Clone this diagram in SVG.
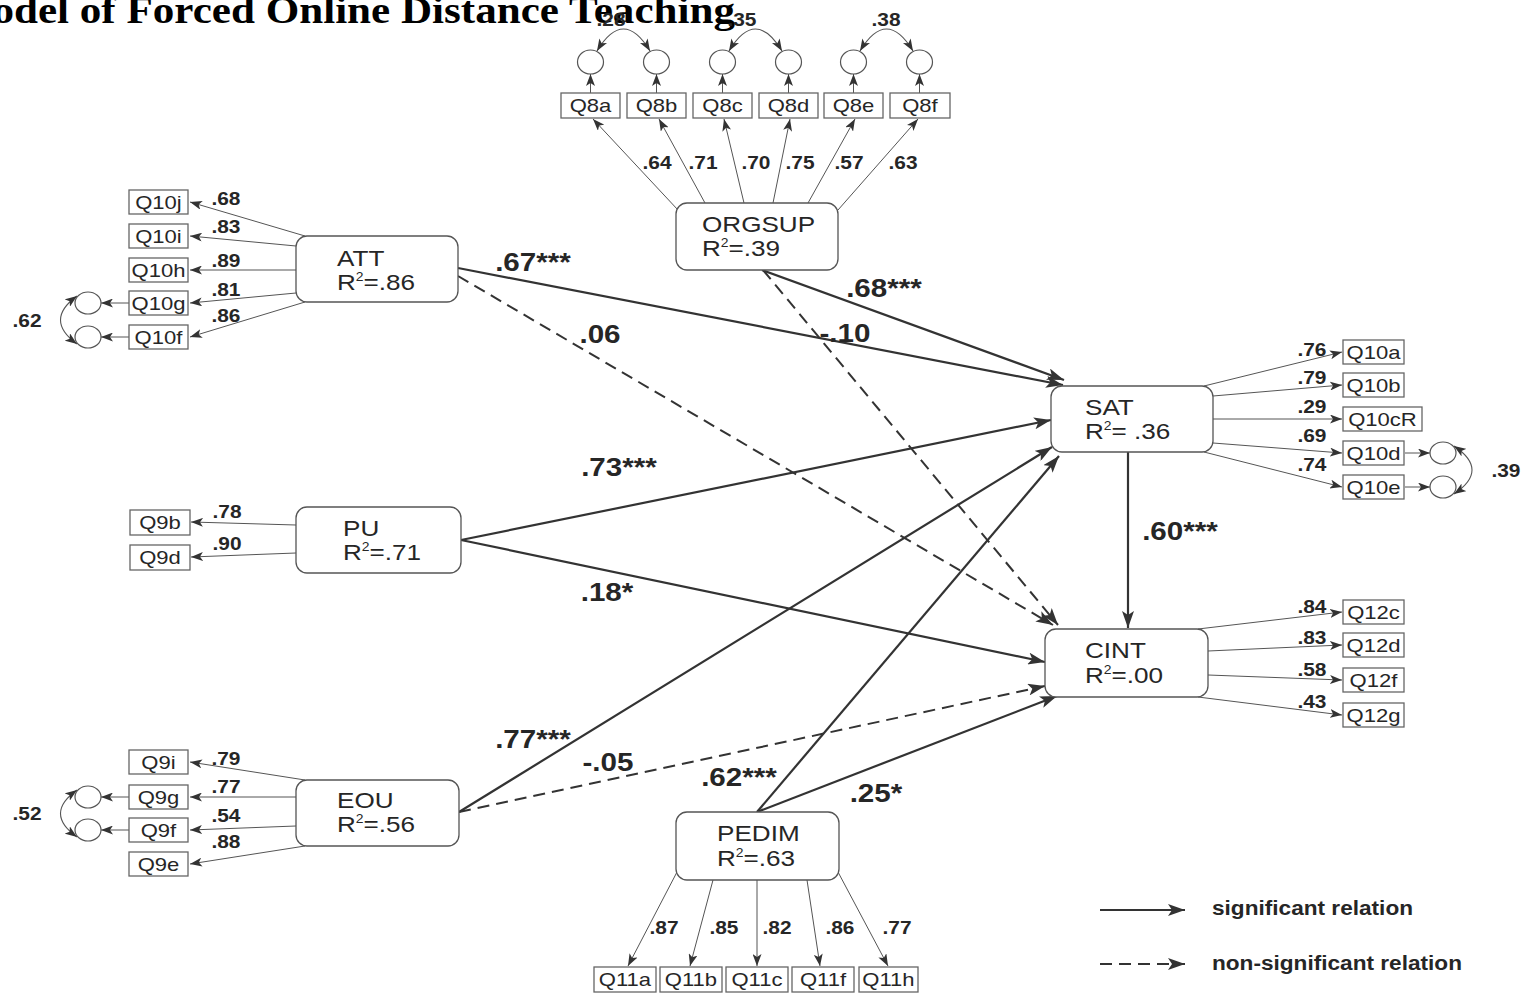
<svg xmlns="http://www.w3.org/2000/svg" width="1521" height="994" viewBox="0 0 1521 994">
<style>
text{font-family:"Liberation Sans",Arial,sans-serif;fill:#262626}
.tc{text-anchor:middle;transform-box:fill-box;transform-origin:center;transform:scaleX(1.16)}
.tl{text-anchor:start;transform-box:fill-box;transform-origin:left center;transform:scaleX(1.16)}
.title{font-family:"Liberation Serif","Times New Roman",serif;font-weight:bold;font-size:37px;fill:#000;text-anchor:end;transform-box:fill-box;transform-origin:right center;transform:scaleX(1.165)}
.nt{font-size:22.5px}
.sup{font-size:12px}
.it{font-size:19px}
.ld{font-size:18px;font-weight:bold}
.pl{font-size:25.5px;font-weight:bold}
.lg{font-size:19.5px;font-weight:bold}
.lat{fill:#fff;stroke:#555;stroke-width:1.3}
.ind{fill:#fff;stroke:#666;stroke-width:1.3}
.err{fill:#fff;stroke:#555;stroke-width:1.2}
.ln{stroke:#555;stroke-width:1;fill:none;marker-end:url(#sa)}
.cv{stroke:#555;stroke-width:1.1;fill:none;marker-start:url(#sa);marker-end:url(#sa)}
.sp{stroke:#333;stroke-width:2.2;fill:none;marker-end:url(#ba)}
.ns{stroke:#333;stroke-width:2;fill:none;stroke-dasharray:12 7;marker-end:url(#ba)}
</style>
<defs>
<marker id="sa" viewBox="0 0 12 9" refX="12" refY="4.5" markerWidth="12" markerHeight="9" markerUnits="userSpaceOnUse" orient="auto-start-reverse"><path d="M0,0 L12,4.5 L0,9 L3,4.5 z" fill="#333"/></marker>
<marker id="ba" viewBox="0 0 17 12" refX="17" refY="6" markerWidth="17" markerHeight="12" markerUnits="userSpaceOnUse" orient="auto"><path d="M0,0 L17,6 L0,12 L4,6 z" fill="#333"/></marker>
</defs>
<rect width="1521" height="994" fill="#fff"/>
<text id="title" class="title" x="735" y="23">Model of Forced Online Distance Teaching</text>

<g id="connectors">
<line class="ln" x1="678" y1="210" x2="593" y2="119"/>
<line class="ln" x1="705" y1="203" x2="659" y2="119"/>
<line class="ln" x1="744" y1="203" x2="724" y2="119"/>
<line class="ln" x1="773" y1="203" x2="790" y2="119"/>
<line class="ln" x1="808" y1="203" x2="855" y2="119"/>
<line class="ln" x1="838" y1="210" x2="918" y2="119"/>
<line class="ln" x1="590.5" y1="93" x2="590.5" y2="74"/>
<line class="ln" x1="656.5" y1="93" x2="656.5" y2="74"/>
<line class="ln" x1="722.5" y1="93" x2="722.5" y2="74"/>
<line class="ln" x1="788.5" y1="93" x2="788.5" y2="74"/>
<line class="ln" x1="853.5" y1="93" x2="853.5" y2="74"/>
<line class="ln" x1="919.5" y1="93" x2="919.5" y2="74"/>
<path class="cv" d="M597,51 Q623.5,7 650,51"/>
<path class="cv" d="M729,51 Q755.5,7 782,51"/>
<path class="cv" d="M860,51 Q886.5,7 913,51"/>
<line class="ln" x1="305" y1="236" x2="190" y2="202"/>
<line class="ln" x1="296" y1="246" x2="190" y2="236"/>
<line class="ln" x1="296" y1="270" x2="190" y2="270"/>
<line class="ln" x1="296" y1="293" x2="190" y2="303"/>
<line class="ln" x1="305" y1="302" x2="190" y2="337"/>
<line class="ln" x1="129" y1="303" x2="101" y2="303"/>
<line class="ln" x1="129" y1="337" x2="101" y2="337"/>
<path class="cv" d="M77,296 Q44,320 77,344"/>
<line class="ln" x1="296" y1="525" x2="191" y2="522"/>
<line class="ln" x1="296" y1="553" x2="191" y2="557"/>
<line class="ln" x1="305" y1="780" x2="190" y2="762"/>
<line class="ln" x1="296" y1="797" x2="190" y2="797"/>
<line class="ln" x1="296" y1="826" x2="190" y2="830"/>
<line class="ln" x1="305" y1="846" x2="190" y2="864"/>
<line class="ln" x1="129" y1="797" x2="101" y2="797"/>
<line class="ln" x1="129" y1="830" x2="101" y2="830"/>
<path class="cv" d="M77,790 Q44,813.5 77,837"/>
<line class="ln" x1="1204" y1="386" x2="1342" y2="352"/>
<line class="ln" x1="1213" y1="396" x2="1342" y2="385"/>
<line class="ln" x1="1213" y1="419" x2="1342" y2="419"/>
<line class="ln" x1="1213" y1="443" x2="1342" y2="453"/>
<line class="ln" x1="1204" y1="452" x2="1342" y2="487"/>
<line class="ln" x1="1405" y1="453" x2="1430" y2="453"/>
<line class="ln" x1="1405" y1="487" x2="1430" y2="487"/>
<path class="cv" d="M1454,446 Q1490,470 1454,494"/>
<line class="ln" x1="1198" y1="629" x2="1342" y2="612"/>
<line class="ln" x1="1208" y1="651" x2="1342" y2="645"/>
<line class="ln" x1="1208" y1="675" x2="1342" y2="680"/>
<line class="ln" x1="1198" y1="697" x2="1342" y2="715"/>
<line class="ln" x1="677" y1="872" x2="628" y2="966"/>
<line class="ln" x1="713" y1="880" x2="690" y2="966"/>
<line class="ln" x1="757" y1="880" x2="757" y2="966"/>
<line class="ln" x1="807" y1="880" x2="820" y2="966"/>
<line class="ln" x1="838" y1="872" x2="888" y2="966"/>
<line class="sp" x1="458" y1="268" x2="1063" y2="385"/>
<line class="ns" x1="458" y1="276" x2="1053" y2="625"/>
<line class="sp" x1="762" y1="270" x2="1064" y2="380"/>
<line class="ns" x1="763" y1="270" x2="1058" y2="625"/>
<line class="sp" x1="461" y1="540" x2="1051" y2="420"/>
<line class="sp" x1="461" y1="540" x2="1045" y2="662"/>
<line class="sp" x1="459" y1="812" x2="1052" y2="447"/>
<line class="ns" x1="459" y1="812" x2="1045" y2="686"/>
<line class="sp" x1="757" y1="812" x2="1059" y2="456"/>
<line class="sp" x1="757" y1="812" x2="1057" y2="696"/>
<line class="sp" x1="1128" y1="452" x2="1128" y2="628"/>
<line class="sp" x1="1100" y1="910" x2="1185" y2="910"/>
<line class="ns" x1="1100" y1="964" x2="1185" y2="964"/>
</g>

<g id="labels">
<text class="ld tc" x="611" y="26">.28</text>
<text class="ld tc" x="742" y="26">.35</text>
<text class="ld tc" x="886" y="26">.38</text>
<text class="ld tc" x="657" y="169">.64</text>
<text class="ld tc" x="703" y="169">.71</text>
<text class="ld tc" x="756" y="169">.70</text>
<text class="ld tc" x="800" y="169">.75</text>
<text class="ld tc" x="849" y="169">.57</text>
<text class="ld tc" x="903" y="169">.63</text>
<text class="ld tc" x="226" y="205">.68</text>
<text class="ld tc" x="226" y="233">.83</text>
<text class="ld tc" x="226" y="267">.89</text>
<text class="ld tc" x="226" y="296">.81</text>
<text class="ld tc" x="226" y="322">.86</text>
<text class="ld tc" x="27" y="327">.62</text>
<text class="ld tc" x="227" y="518">.78</text>
<text class="ld tc" x="227" y="550">.90</text>
<text class="ld tc" x="226" y="765">.79</text>
<text class="ld tc" x="226" y="793">.77</text>
<text class="ld tc" x="226" y="822">.54</text>
<text class="ld tc" x="226" y="848">.88</text>
<text class="ld tc" x="27" y="820">.52</text>
<text class="ld tc" x="1312" y="356">.76</text>
<text class="ld tc" x="1312" y="384">.79</text>
<text class="ld tc" x="1312" y="413">.29</text>
<text class="ld tc" x="1312" y="442">.69</text>
<text class="ld tc" x="1312" y="471">.74</text>
<text class="ld tc" x="1506" y="477">.39</text>
<text class="ld tc" x="1312" y="613">.84</text>
<text class="ld tc" x="1312" y="644">.83</text>
<text class="ld tc" x="1312" y="676">.58</text>
<text class="ld tc" x="1312" y="708">.43</text>
<text class="ld tc" x="664" y="934">.87</text>
<text class="ld tc" x="724" y="934">.85</text>
<text class="ld tc" x="777" y="934">.82</text>
<text class="ld tc" x="840" y="934">.86</text>
<text class="ld tc" x="897" y="934">.77</text>
<text class="pl tc" x="533" y="271">.67***</text>
<text class="pl tc" x="600" y="343">.06</text>
<text class="pl tc" x="884" y="297">.68***</text>
<text class="pl tc" x="845" y="342">-.10</text>
<text class="pl tc" x="619" y="476">.73***</text>
<text class="pl tc" x="607" y="601">.18*</text>
<text class="pl tc" x="533" y="748">.77***</text>
<text class="pl tc" x="608" y="771">-.05</text>
<text class="pl tc" x="739" y="786">.62***</text>
<text class="pl tc" x="876" y="802">.25*</text>
<text class="pl tc" x="1180" y="540">.60***</text>
<text class="lg tl" x="1212" y="915">significant relation</text>
<text class="lg tl" x="1212" y="970">non-significant relation</text>
</g>

<g id="ORGSUP"><rect class="lat" x="676" y="203" width="162" height="67" rx="11"/><text class="nt tl" x="702" y="232">ORGSUP</text><text class="nt tl" x="702" y="256">R<tspan class="sup" dy="-9">2</tspan><tspan dy="9">=.39</tspan></text></g>
<g id="ATT"><rect class="lat" x="296" y="236" width="162" height="66" rx="11"/><text class="nt tl" x="337" y="266">ATT</text><text class="nt tl" x="337" y="290">R<tspan class="sup" dy="-9">2</tspan><tspan dy="9">=.86</tspan></text></g>
<g id="PU"><rect class="lat" x="296" y="507" width="165" height="66" rx="11"/><text class="nt tl" x="343" y="536">PU</text><text class="nt tl" x="343" y="560">R<tspan class="sup" dy="-9">2</tspan><tspan dy="9">=.71</tspan></text></g>
<g id="EOU"><rect class="lat" x="296" y="780" width="163" height="66" rx="11"/><text class="nt tl" x="337" y="808">EOU</text><text class="nt tl" x="337" y="832">R<tspan class="sup" dy="-9">2</tspan><tspan dy="9">=.56</tspan></text></g>
<g id="SAT"><rect class="lat" x="1051" y="386" width="162" height="66" rx="11"/><text class="nt tl" x="1085" y="415">SAT</text><text class="nt tl" x="1085" y="439">R<tspan class="sup" dy="-9">2</tspan><tspan dy="9">= .36</tspan></text></g>
<g id="CINT"><rect class="lat" x="1045" y="629" width="163" height="68" rx="11"/><text class="nt tl" x="1085" y="658">CINT</text><text class="nt tl" x="1085" y="683">R<tspan class="sup" dy="-9">2</tspan><tspan dy="9">=.00</tspan></text></g>
<g id="PEDIM"><rect class="lat" x="676" y="812" width="163" height="68" rx="11"/><text class="nt tl" x="717" y="841">PEDIM</text><text class="nt tl" x="717" y="866">R<tspan class="sup" dy="-9">2</tspan><tspan dy="9">=.63</tspan></text></g>

<g id="Q8a"><rect class="ind" x="561" y="93" width="59" height="25"/><text class="it tc" x="590.5" y="112">Q8a</text></g>
<g id="Q8b"><rect class="ind" x="627" y="93" width="59" height="25"/><text class="it tc" x="656.5" y="112">Q8b</text></g>
<g id="Q8c"><rect class="ind" x="693" y="93" width="59" height="25"/><text class="it tc" x="722.5" y="112">Q8c</text></g>
<g id="Q8d"><rect class="ind" x="759" y="93" width="59" height="25"/><text class="it tc" x="788.5" y="112">Q8d</text></g>
<g id="Q8e"><rect class="ind" x="824" y="93" width="59" height="25"/><text class="it tc" x="853.5" y="112">Q8e</text></g>
<g id="Q8f"><rect class="ind" x="890" y="93" width="60" height="25"/><text class="it tc" x="920" y="112">Q8f</text></g>
<g id="e8a"><ellipse class="err" cx="590.5" cy="62" rx="13" ry="12"/></g>
<g id="e8b"><ellipse class="err" cx="656.5" cy="62" rx="13" ry="12"/></g>
<g id="e8c"><ellipse class="err" cx="722.5" cy="62" rx="13" ry="12"/></g>
<g id="e8d"><ellipse class="err" cx="788.5" cy="62" rx="13" ry="12"/></g>
<g id="e8e"><ellipse class="err" cx="853.5" cy="62" rx="13" ry="12"/></g>
<g id="e8f"><ellipse class="err" cx="919.5" cy="62" rx="13" ry="12"/></g>

<g id="Q10j"><rect class="ind" x="129" y="190" width="59" height="24"/><text class="it tc" x="158.5" y="209">Q10j</text></g>
<g id="Q10i"><rect class="ind" x="129" y="224" width="59" height="24"/><text class="it tc" x="158.5" y="243">Q10i</text></g>
<g id="Q10h"><rect class="ind" x="129" y="258" width="59" height="24"/><text class="it tc" x="158.5" y="277">Q10h</text></g>
<g id="Q10g"><rect class="ind" x="129" y="291" width="59" height="24"/><text class="it tc" x="158.5" y="310">Q10g</text></g>
<g id="Q10f"><rect class="ind" x="129" y="325" width="59" height="24"/><text class="it tc" x="158.5" y="344">Q10f</text></g>
<g id="e10g"><ellipse class="err" cx="88" cy="303" rx="13" ry="11"/></g>
<g id="e10f"><ellipse class="err" cx="88" cy="337" rx="13" ry="11"/></g>

<g id="Q9b"><rect class="ind" x="130" y="510" width="60" height="25"/><text class="it tc" x="160" y="529">Q9b</text></g>
<g id="Q9d"><rect class="ind" x="130" y="545" width="60" height="25"/><text class="it tc" x="160" y="564">Q9d</text></g>

<g id="Q9i"><rect class="ind" x="129" y="750" width="59" height="24"/><text class="it tc" x="158.5" y="769">Q9i</text></g>
<g id="Q9g"><rect class="ind" x="129" y="785" width="59" height="24"/><text class="it tc" x="158.5" y="804">Q9g</text></g>
<g id="Q9f"><rect class="ind" x="129" y="818" width="59" height="24"/><text class="it tc" x="158.5" y="837">Q9f</text></g>
<g id="Q9e"><rect class="ind" x="129" y="852" width="59" height="24"/><text class="it tc" x="158.5" y="871">Q9e</text></g>
<g id="e9g"><ellipse class="err" cx="88" cy="797" rx="13" ry="11"/></g>
<g id="e9f"><ellipse class="err" cx="88" cy="830" rx="13" ry="11"/></g>

<g id="Q10a"><rect class="ind" x="1343" y="340" width="61" height="24"/><text class="it tc" x="1373.5" y="359">Q10a</text></g>
<g id="Q10b"><rect class="ind" x="1343" y="373" width="61" height="24"/><text class="it tc" x="1373.5" y="392">Q10b</text></g>
<g id="Q10cR"><rect class="ind" x="1343" y="407" width="79" height="24"/><text class="it tc" x="1382.5" y="426">Q10cR</text></g>
<g id="Q10d"><rect class="ind" x="1343" y="441" width="61" height="24"/><text class="it tc" x="1373.5" y="460">Q10d</text></g>
<g id="Q10e"><rect class="ind" x="1343" y="475" width="61" height="24"/><text class="it tc" x="1373.5" y="494">Q10e</text></g>
<g id="e10d"><ellipse class="err" cx="1443" cy="453" rx="13" ry="11"/></g>
<g id="e10e"><ellipse class="err" cx="1443" cy="487" rx="13" ry="11"/></g>

<g id="Q12c"><rect class="ind" x="1343" y="600" width="61" height="24"/><text class="it tc" x="1373.5" y="619">Q12c</text></g>
<g id="Q12d"><rect class="ind" x="1343" y="633" width="61" height="24"/><text class="it tc" x="1373.5" y="652">Q12d</text></g>
<g id="Q12f"><rect class="ind" x="1343" y="668" width="61" height="24"/><text class="it tc" x="1373.5" y="687">Q12f</text></g>
<g id="Q12g"><rect class="ind" x="1343" y="703" width="61" height="24"/><text class="it tc" x="1373.5" y="722">Q12g</text></g>

<g id="Q11a"><rect class="ind" x="594" y="967" width="62" height="25"/><text class="it tc" x="625" y="986">Q11a</text></g>
<g id="Q11b"><rect class="ind" x="660" y="967" width="62" height="25"/><text class="it tc" x="691" y="986">Q11b</text></g>
<g id="Q11c"><rect class="ind" x="726" y="967" width="62" height="25"/><text class="it tc" x="757" y="986">Q11c</text></g>
<g id="Q11f"><rect class="ind" x="792" y="967" width="62" height="25"/><text class="it tc" x="823" y="986">Q11f</text></g>
<g id="Q11h"><rect class="ind" x="859" y="967" width="59" height="25"/><text class="it tc" x="888.5" y="986">Q11h</text></g>
</svg>
